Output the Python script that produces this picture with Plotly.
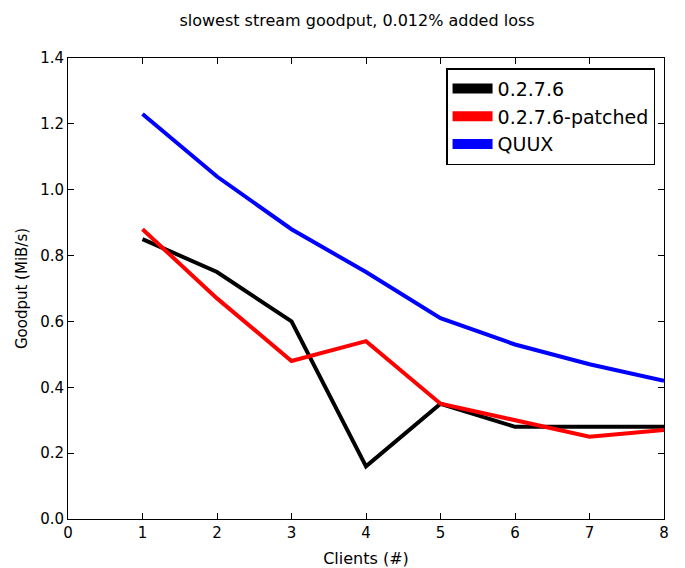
import plotly.graph_objects as go

clients = [1, 2, 3, 4, 5, 6, 7, 8]
v0276 = [0.85, 0.75, 0.60, 0.16, 0.35, 0.28, 0.28, 0.28]
v0276_patched = [0.88, 0.67, 0.48, 0.54, 0.35, 0.30, 0.25, 0.27]
quux = [1.23, 1.04, 0.88, 0.75, 0.61, 0.53, 0.47, 0.42]

series = [("0.2.7.6", v0276, "#000000"),
          ("0.2.7.6-patched", v0276_patched, "#ff0000"),
          ("QUUX", quux, "#0000ff")]

fig = go.Figure()
for name, vals, col in series:
    fig.add_trace(go.Scatter(x=clients, y=vals, mode="lines", name=name,
                             line=dict(color=col, width=4), showlegend=False))
for name, vals, col in series:
    fig.add_trace(go.Scatter(x=[None], y=[None], mode="lines", name=name,
                             line=dict(color=col, width=14)))

axis_common = dict(showgrid=False, zeroline=False, showline=True, linecolor="black",
                   linewidth=1, mirror="allticks", ticks="inside", ticklen=6,
                   tickcolor="black", automargin=False,
                   tickfont=dict(family="DejaVu Sans", size=15, color="black"))

fig.update_xaxes(range=[0, 8], dtick=1, tick0=0,
                 title=dict(text="Clients (#)", font=dict(family="DejaVu Sans", size=16, color="black"), standoff=12),
                 **axis_common)
fig.update_yaxes(range=[0, 1.4], dtick=0.2, tick0=0, tickformat=".1f",
                 title=dict(text="Goodput (MiB/s)", font=dict(family="DejaVu Sans", size=15, color="black"), standoff=8),
                 **axis_common)

fig.update_layout(
    width=685, height=568,
    margin=dict(l=68, r=21, t=58, b=49),
    paper_bgcolor="white", plot_bgcolor="white",
    title=dict(text="slowest stream goodput, 0.012% added loss", x=357 / 685, xanchor="center",
               y=1 - 20 / 568, yanchor="middle",
               font=dict(family="DejaVu Sans", size=16, color="black")),
    legend=dict(x=0.985, y=0.978, xanchor="right", yanchor="top",
                bgcolor="white", bordercolor="black", borderwidth=1.5,
                font=dict(family="DejaVu Sans", size=19, color="black"),
                itemwidth=40, tracegroupgap=0),
)

fig.write_html("out.html")
